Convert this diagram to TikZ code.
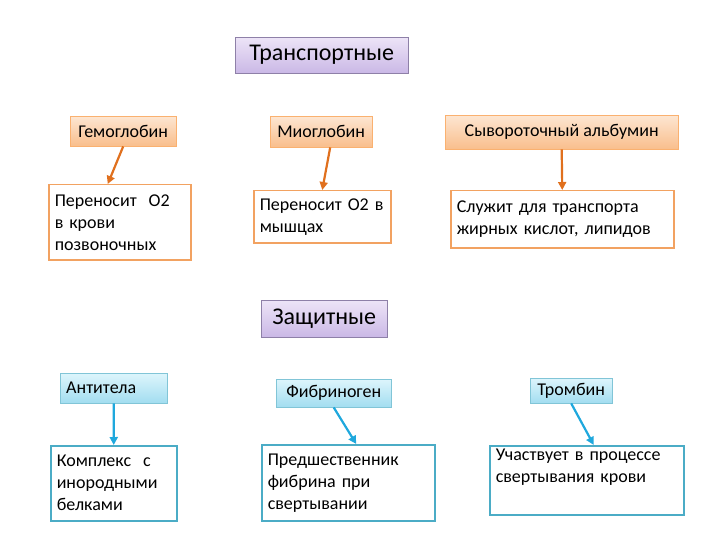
\documentclass[tikz,border=0pt]{standalone}
\usepackage{fontspec}
\setmainfont{Carlito}
\usetikzlibrary{arrows.meta}

\definecolor{peachtop}{HTML}{FDE6D2}
\definecolor{peachbot}{HTML}{F9BE8C}
\definecolor{orangeline}{HTML}{F2A261}
\definecolor{orangearrow}{HTML}{E0701E}
\definecolor{lavtop}{HTML}{EDE4F7}
\definecolor{lavbot}{HTML}{CAB8E6}
\definecolor{lavline}{HTML}{8E80A8}
\definecolor{cyantop}{HTML}{DDF5FC}
\definecolor{cyanbot}{HTML}{A2DDF0}
\definecolor{tealline}{HTML}{4BACC6}
\definecolor{bluearrow}{HTML}{1FA8DD}

\begin{document}
\begin{tikzpicture}[
    x=1pt, y=-1pt,
    group/.style={draw=lavline, top color=lavtop, bottom color=lavbot, anchor=north west, font=\fontsize{24}{28}\selectfont},
    protein/.style={draw=peachbot!80!orange, top color=peachtop, bottom color=peachbot, anchor=north west, font=\fontsize{18}{21}\selectfont},
    defence/.style={draw=tealline!70, top color=cyantop, bottom color=cyanbot, anchor=north west, font=\fontsize{18}{21}\selectfont},
    orole/.style={draw=orangeline, line width=1.5pt, fill=white, anchor=north west, align=left, inner xsep=6pt, font=\fontsize{18}{22}\selectfont},
    brole/.style={draw=tealline, line width=1.5pt, fill=white, anchor=north west, align=left, inner xsep=6pt, font=\fontsize{18}{22}\selectfont},
    oarr/.style={-{Triangle[length=8pt, width=8pt]}, draw=orangearrow, line width=2.2pt},
    barr/.style={-{Triangle[length=8pt, width=8pt]}, draw=bluearrow, line width=2.2pt}
]
\useasboundingbox (0,0) rectangle (720,540);

% Transport proteins
\node[group, minimum width=173pt, minimum height=36pt] (transport) at (235,37) {Транспортные};

\node[protein, minimum width=106pt, minimum height=30pt] (hemo) at (70,116) {Гемоглобин};
\node[protein, minimum width=102pt, minimum height=31pt] (myo) at (270,116) {Миоглобин};
\node[protein, minimum width=233pt, minimum height=34pt] (albumin) at (445,115) {Сывороточный альбумин};

\node[orole, text width=130pt, minimum height=75pt] (hemorole) at (48,184) {Переносит~ О2\\в крови\\позвоночных};
\node[orole, text width=125pt, minimum height=52pt] (myorole) at (253,190) {Переносит О2 в\\мышцах};
\node[orole, text width=211pt, minimum height=57pt] (albrole) at (450,190) {Служит для транспорта\\жирных кислот, липидов};

\draw[oarr] (hemo.south) -- ([xshift=-12pt]hemorole.north);
\draw[oarr] ([xshift=9pt]myo.south) -- (myorole.north);
\draw[oarr] (albumin.south) -- (albrole.north);

% Protective proteins
\node[group, minimum width=126pt, minimum height=37pt] (protect) at (261,300) {Защитные};

\node[defence, minimum width=107pt, minimum height=30pt, text width=95pt, align=left, inner xsep=6pt] (antibody) at (60,373) {Антитела};
\node[defence, minimum width=115pt, minimum height=28pt] (fibrinogen) at (276,379) {Фибриноген};
\node[defence, minimum width=82pt, minimum height=25pt] (thrombin) at (530,378) {Тромбин};

\node[brole, text width=114pt, minimum height=75pt] (antirole) at (50,445) {Комплекс~ с\\инородными\\белками};
\node[brole, text width=161pt, minimum height=76pt] (fibrole) at (261,444) {Предшественник\\фибрина при\\свертывании};
\node[brole, text width=182pt, text depth=51pt] (throle) at (489,445) {Участвует в процессе\\свертывания крови};

\draw[barr] (antibody.south) -- (antirole.north);
\draw[barr] (fibrinogen.south) -- ([xshift=8pt]fibrole.north);
\draw[barr] (thrombin.south) -- ([xshift=7pt]throle.north);

\end{tikzpicture}
\end{document}
